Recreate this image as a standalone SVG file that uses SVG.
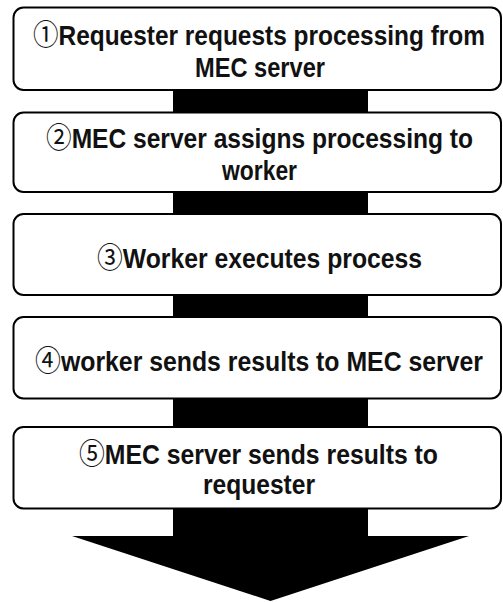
<svg xmlns="http://www.w3.org/2000/svg" width="503" height="602" viewBox="0 0 503 602">
<style>
.box{fill:#fff;stroke:#000;stroke-width:2}
.t{font-family:"Liberation Sans","Noto Sans CJK JP",sans-serif;font-weight:bold;font-size:23px;fill:#111;text-anchor:middle}
.n{font-family:"Noto Sans CJK JP","DejaVu Sans",sans-serif;font-weight:normal;font-size:24px}
.arrow{fill:#000}
</style>
<rect width="503" height="602" fill="#fff"/>
<g id="connectors">
<rect class="arrow" x="173" y="85" width="195" height="452"/>
<polygon class="arrow" points="72,536 469,536 270.5,601"/>
</g>
<g id="step1">
<rect class="box" x="13.5" y="7.5" width="487.5" height="82.5" rx="10"/>
<text class="t" transform="translate(259 45) scale(1 1.2)" x="0" y="0" textLength="452" lengthAdjust="spacingAndGlyphs"><tspan class="n">①</tspan>Requester requests processing from</text>
<text class="t" transform="translate(260 76.5) scale(1 1.2)" x="0" y="0" textLength="130" lengthAdjust="spacingAndGlyphs">MEC server</text>
</g>
<g id="step2">
<rect class="box" x="13.5" y="112.5" width="487.5" height="79.5" rx="10"/>
<text class="t" transform="translate(259.5 147.5) scale(1 1.2)" x="0" y="0" textLength="427" lengthAdjust="spacingAndGlyphs"><tspan class="n">②</tspan>MEC server assigns processing to</text>
<text class="t" transform="translate(259.5 179.5) scale(1 1.2)" x="0" y="0" textLength="75" lengthAdjust="spacingAndGlyphs">worker</text>
</g>
<g id="step3">
<rect class="box" x="13.5" y="214" width="487.5" height="81" rx="10"/>
<text class="t" transform="translate(259.5 267.5) scale(1 1.2)" x="0" y="0" textLength="325" lengthAdjust="spacingAndGlyphs"><tspan class="n">③</tspan>Worker executes process</text>
</g>
<g id="step4">
<rect class="box" x="13.5" y="317" width="487.5" height="81.5" rx="10"/>
<text class="t" transform="translate(259 371) scale(1 1.2)" x="0" y="0" textLength="448" lengthAdjust="spacingAndGlyphs"><tspan class="n">④</tspan>worker sends results to MEC server</text>
</g>
<g id="step5">
<rect class="box" x="13.5" y="427" width="487.5" height="81.5" rx="10"/>
<text class="t" transform="translate(258.5 464) scale(1 1.2)" x="0" y="0" textLength="359" lengthAdjust="spacingAndGlyphs"><tspan class="n">⑤</tspan>MEC server sends results to</text>
<text class="t" transform="translate(259 494) scale(1 1.2)" x="0" y="0" textLength="112" lengthAdjust="spacingAndGlyphs">requester</text>
</g>
</svg>
